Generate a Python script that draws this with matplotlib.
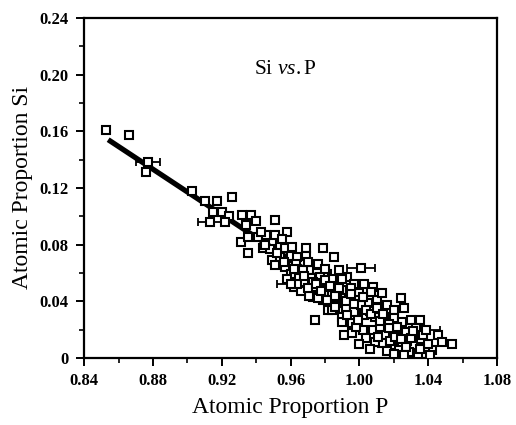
import matplotlib
matplotlib.use("Agg")
from matplotlib import pyplot as plt
from matplotlib.ticker import MultipleLocator, FixedLocator

plt.rcParams["font.family"] = ["Liberation Serif", "DejaVu Serif"]
plt.rcParams["mathtext.fontset"] = "custom"
plt.rcParams["mathtext.rm"] = "Liberation Serif"
plt.rcParams["mathtext.it"] = "Liberation Serif:italic"

# measured points (atomic proportion P, atomic proportion Si)
p_vals = [
    0.853, 0.866, 0.876, 0.903, 0.910, 0.917, 0.926, 0.915, 0.920, 0.924,
    0.922, 0.932, 0.937, 0.940, 0.934, 0.951, 0.931, 0.935, 0.941, 0.946,
    0.951, 0.958, 0.935, 0.944, 0.948, 0.954, 0.957, 0.961, 0.969, 0.949,
    0.954, 0.960, 0.964, 0.969, 0.951, 0.957, 0.963, 0.975, 0.960, 0.966,
    0.971, 0.965, 0.972, 0.972, 0.979, 0.985, 0.976, 0.988, 0.981, 0.993,
    0.997, 1.003, 1.008, 0.984, 0.990, 0.994, 1.000, 0.973, 0.979, 0.987,
    0.994, 0.999, 1.005, 1.010, 0.974, 0.982, 0.990, 0.967, 0.977, 0.984,
    0.990, 0.968, 0.973, 0.979, 1.007, 1.013, 0.990, 0.971, 0.976, 0.981,
    0.994, 1.000, 1.005, 1.011, 1.016, 1.024, 1.020, 1.026, 0.984, 0.992,
    0.997, 1.003, 1.009, 1.015, 1.020, 1.025, 1.030, 1.035, 0.990, 0.996,
    0.991, 0.996, 1.002, 1.008, 1.015, 1.020, 1.027, 1.033, 1.046, 1.048,
    1.054, 1.042, 1.038, 1.032, 1.025, 1.019, 1.013, 1.029, 1.034, 1.023,
    1.009, 1.004, 1.000, 1.006, 1.016, 1.028, 1.036, 1.040, 1.012, 1.022,
    0.998, 0.962, 0.966, 0.978, 0.983, 0.987, 0.995, 1.001, 1.006, 1.017,
    0.945, 0.952, 0.956, 0.962, 0.958, 0.964, 0.968, 0.970, 0.975, 0.978,
    0.980, 0.983, 0.986, 0.988, 0.992, 0.995, 0.997, 1.002, 1.004, 1.007,
    1.010, 1.012, 1.014, 1.017, 1.018, 1.021, 1.024, 1.027, 1.030, 1.031,
    1.035, 1.037, 1.041, 1.026, 1.020, 1.011, 0.999, 0.993, 0.986, 0.980,
    0.970, 0.955, 0.943,
]
si_vals = [
    0.161, 0.157, 0.131, 0.118, 0.111, 0.111, 0.1135, 0.103, 0.103, 0.100,
    0.096, 0.101, 0.101, 0.0965, 0.094, 0.097, 0.082, 0.085, 0.085, 0.087,
    0.087, 0.089, 0.074, 0.0775, 0.077, 0.080, 0.0775, 0.078, 0.0775, 0.069,
    0.071, 0.072, 0.071, 0.072, 0.0655, 0.064, 0.066, 0.0655, 0.059, 0.0605,
    0.062, 0.0565, 0.0565, 0.0445, 0.0775, 0.071, 0.066, 0.062, 0.059, 0.057,
    0.052, 0.052, 0.050, 0.0463, 0.0455, 0.046, 0.0455, 0.043, 0.041, 0.039,
    0.0356, 0.035, 0.039, 0.041, 0.027, 0.034, 0.0286, 0.062, 0.057, 0.056,
    0.056, 0.0535, 0.0535, 0.0527, 0.0464, 0.0455, 0.048, 0.044, 0.042, 0.041,
    0.042, 0.041, 0.0386, 0.0357, 0.0372, 0.042, 0.0337, 0.035, 0.0337, 0.035,
    0.0322, 0.030, 0.0286, 0.0286, 0.028, 0.0252, 0.0266, 0.0266, 0.0252, 0.0245,
    0.016, 0.0175, 0.0196, 0.0196, 0.016, 0.0175, 0.018, 0.021, 0.016, 0.011,
    0.0097, 0.0055, 0.0075, 0.009, 0.0103, 0.009, 0.0103, 0.004, 0.003, 0.0055,
    0.011, 0.014, 0.010, 0.006, 0.005, 0.012, 0.013, 0.010, 0.022, 0.022,
    0.022, 0.050, 0.047, 0.048, 0.050, 0.043, 0.049, 0.037, 0.033, 0.024,
    0.080, 0.074, 0.068, 0.063, 0.056, 0.052, 0.058, 0.049, 0.052, 0.047,
    0.055, 0.051, 0.044, 0.049, 0.040, 0.045, 0.038, 0.043, 0.034, 0.031,
    0.035, 0.026, 0.031, 0.021, 0.012, 0.015, 0.013, 0.008, 0.014, 0.019,
    0.006, 0.016, 0.002, 0.002, 0.003, 0.015, 0.027, 0.030, 0.036, 0.063,
    0.068, 0.084, 0.089,
]

# points drawn with horizontal error bars
err_p = [0.877, 0.913, 1.001, 0.960, 1.039]
err_si = [0.138, 0.096, 0.0634, 0.052, 0.020]
err_dp = [0.007, 0.007, 0.008, 0.008, 0.008]

# fitted line end points
fit_p = [0.854, 1.040]
fit_si = [0.154, 0.005]

fig = plt.figure(figsize=(5.16, 4.25), dpi=100)
ax = fig.add_axes([0.163, 0.158, 0.800, 0.800])

ax.plot(fit_p, fit_si, color="black", linewidth=3.8, solid_capstyle="butt", zorder=2)
ax.errorbar(err_p, err_si, xerr=err_dp, fmt="none", ecolor="black",
            elinewidth=1.3, capsize=3, capthick=1.3, zorder=3)
ax.plot(p_vals + err_p, si_vals + err_si, linestyle="none", marker="s",
        markersize=5.2, markerfacecolor="white", markeredgecolor="black",
        markeredgewidth=1.5, zorder=4)

ax.text(0.957, 0.2035, r"Si $\mathit{vs.}$P", ha="center", va="center",
        fontsize=15.5)

ax.set_xlim(0.84, 1.08)
ax.set_ylim(0, 0.24)
ax.xaxis.set_major_locator(FixedLocator([0.84, 0.88, 0.92, 0.96, 1.00, 1.04, 1.08]))
ax.xaxis.set_minor_locator(MultipleLocator(0.02))
ax.yaxis.set_major_locator(FixedLocator([0, 0.04, 0.08, 0.12, 0.16, 0.20, 0.24]))
ax.yaxis.set_minor_locator(MultipleLocator(0.02))
ax.set_xticklabels(["0.84", "0.88", "0.92", "0.96", "1.00", "1.04", "1.08"],
                   fontweight="bold")
ax.set_yticklabels(["0", "0.04", "0.08", "0.12", "0.16", "0.20", "0.24"],
                   fontweight="bold")
ax.tick_params(which="major", direction="out", length=6, width=1.4,
               labelsize=12, pad=5)
ax.tick_params(which="minor", direction="out", length=3.5, width=1.2)
ax.tick_params(top=False, right=False, which="both")
for spine in ax.spines.values():
    spine.set_linewidth(1.6)

ax.set_xlabel("Atomic Proportion P", fontsize=17, labelpad=6)
ax.set_ylabel("Atomic Proportion Si", fontsize=17, labelpad=5)

fig.savefig("out.png", dpi=100)
